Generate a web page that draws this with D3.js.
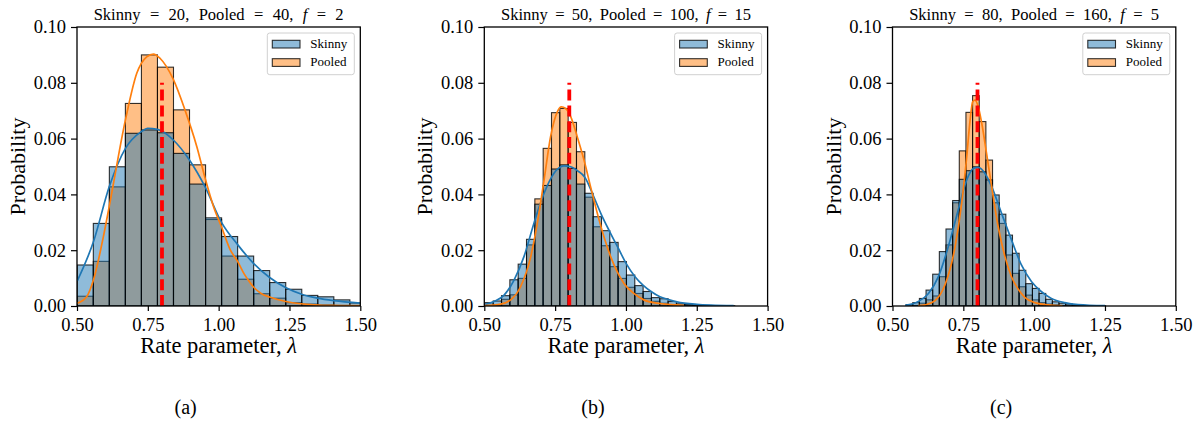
<!DOCTYPE html>
<html>
<head>
<meta charset="utf-8">
<script src="https://cdn.jsdelivr.net/npm/d3@7"></script>
<style>
  html, body { margin: 0; padding: 0; background: #fff; }
  svg { display: block; }
</style>
</head>
<body>
<svg id="chart" width="1200" height="421"></svg>
<script>
// ---------------- DATA ----------------
const seriesNames = ["Skinny", "Pooled"];
const panelSkinny = [20, 50, 80];
const panelPooled = [40, 100, 160];
const panelF = [2, 15, 5];
const panelCaptions = ["(a)", "(b)", "(c)"];
const xTickValues = [0.5, 0.75, 1.0, 1.25, 1.5];
const yTickValues = [0, 0.02, 0.04, 0.06, 0.08, 0.10];
const trueRate = 0.8;
const trueRateLineTop = 0.08;

// histogram bins: start and width (equal-width bins), per panel
const binStart = [0.501, 0.502, 0.548];
const binWidth = [0.0566, 0.0294, 0.02347];

// Panel (a)
const p1Skinny = [0.0147,0.0296,0.0499,0.0619,0.0631,0.0621,0.0547,0.0437,0.0316,0.0249,0.0179,0.0127,0.0084,0.0060,0.0038,0.0033,0.0022,0.0011];
const p1Pooled = [0.0035,0.0160,0.0427,0.0726,0.0900,0.0856,0.0703,0.0506,0.0310,0.0179,0.0096,0.0044,0.0028,0.0012,0.0007,0.0004,0.0002,0.0001];
const p1SkinnyKde = [[0.501,0.0090],[0.558,0.0230],[0.614,0.0428],[0.671,0.0565],[0.727,0.0625],[0.749,0.0637],[0.784,0.0633],[0.840,0.0595],[0.897,0.0523],[0.953,0.0425],[1.010,0.0300],[1.067,0.0220],[1.123,0.0153],[1.180,0.0102],[1.236,0.0066],[1.293,0.0042],[1.349,0.0028],[1.406,0.0019],[1.500,0.0010]];
const p1PooledKde = [[0.501,0.0010],[0.534,0.0033],[0.558,0.0093],[0.593,0.0248],[0.614,0.0358],[0.671,0.0667],[0.711,0.0834],[0.746,0.0893],[0.770,0.0903],[0.793,0.0888],[0.840,0.0812],[0.881,0.0703],[0.923,0.0571],[0.953,0.0455],[0.982,0.0356],[1.010,0.0284],[1.041,0.0201],[1.067,0.0160],[1.090,0.0115],[1.110,0.0085],[1.123,0.0068],[1.150,0.0045],[1.180,0.0032],[1.237,0.0016],[1.290,0.0008],[1.400,0.0002],[1.500,0.0001]];

// Panel (b)
const p2Skinny = [0.0012,0.0018,0.0037,0.0094,0.0150,0.0239,0.0365,0.0432,0.0491,0.0506,0.0493,0.0437,0.0404,0.0320,0.0270,0.0228,0.0159,0.0111,0.0073,0.0052,0.0030,0.0026,0.0016,0.0008,0.0005,0.0003,0.0002,0.0001,0.0001,0.0001];
const p2Pooled = [0.0002,0.0005,0.0024,0.0040,0.0099,0.0219,0.0384,0.0565,0.0693,0.0708,0.0658,0.0553,0.0390,0.0284,0.0216,0.0141,0.0099,0.0067,0.0045,0.0027,0.0017,0.0010,0.0005,0.0003,0.0002,0.0001,0.0001,0,0,0];
const p2SkinnyKde = [[0.499,0.0004],[0.534,0.0016],[0.570,0.0039],[0.605,0.0093],[0.640,0.0177],[0.675,0.0296],[0.711,0.0404],[0.746,0.0476],[0.781,0.0502],[0.805,0.0499],[0.830,0.0484],[0.856,0.0460],[0.885,0.0395],[0.914,0.0326],[0.943,0.0266],[0.973,0.0207],[1.002,0.0150],[1.032,0.0105],[1.061,0.0074],[1.090,0.0051],[1.120,0.0033],[1.150,0.0023],[1.180,0.0015],[1.250,0.0006],[1.300,0.0003],[1.380,0.0001]];
const p2PooledKde = [[0.499,0.0001],[0.558,0.0007],[0.593,0.0022],[0.628,0.0069],[0.664,0.0177],[0.687,0.0296],[0.711,0.0452],[0.734,0.0607],[0.758,0.0697],[0.772,0.0714],[0.787,0.0708],[0.805,0.0679],[0.828,0.0607],[0.852,0.0523],[0.875,0.0428],[0.899,0.0332],[0.922,0.0249],[0.946,0.0177],[0.969,0.0123],[0.993,0.0081],[1.028,0.0045],[1.063,0.0022],[1.110,0.0010],[1.205,0.0002]];

// Panel (c)
const p3Skinny = [0.0005,0.0012,0.0027,0.0057,0.0114,0.0195,0.0276,0.0378,0.0454,0.0485,0.0499,0.0481,0.0452,0.0398,0.0329,0.0254,0.0189,0.0128,0.0080,0.0063,0.0045,0.0024,0.0015,0.0010,0.0007,0.0004,0.0002,0.0001,0.0001,0.0001];
const p3Pooled = [0,0.0002,0.0010,0.0022,0.0036,0.0105,0.0219,0.0370,0.0556,0.0694,0.0754,0.0661,0.0523,0.0370,0.0296,0.0183,0.0117,0.0069,0.0039,0.0022,0.0012,0.0007,0.0004,0.0002,0.0001,0.0001,0,0,0,0];
const p3SkinnyKde = [[0.545,0.0002],[0.591,0.0016],[0.627,0.0045],[0.662,0.0105],[0.697,0.0213],[0.732,0.0344],[0.762,0.0452],[0.785,0.0493],[0.803,0.0497],[0.826,0.0476],[0.850,0.0428],[0.885,0.0332],[0.920,0.0237],[0.955,0.0147],[0.991,0.0087],[1.026,0.0051],[1.061,0.0027],[1.108,0.0012],[1.155,0.0005],[1.250,0.0001]];
const p3PooledKde = [[0.590,0.0001],[0.615,0.0004],[0.650,0.0019],[0.685,0.0075],[0.721,0.0213],[0.744,0.0368],[0.762,0.0535],[0.774,0.0667],[0.783,0.0732],[0.791,0.0738],[0.801,0.0720],[0.815,0.0655],[0.832,0.0547],[0.850,0.0428],[0.873,0.0284],[0.897,0.0177],[0.920,0.0105],[0.944,0.0060],[0.967,0.0031],[1.002,0.0012],[1.049,0.0004],[1.100,0.0001]];

// ---------------- BUILD ----------------
const panels = [
  {skinny: p1Skinny, pooled: p1Pooled, skinnyKde: p1SkinnyKde, pooledKde: p1PooledKde},
  {skinny: p2Skinny, pooled: p2Pooled, skinnyKde: p2SkinnyKde, pooledKde: p2PooledKde},
  {skinny: p3Skinny, pooled: p3Pooled, skinnyKde: p3SkinnyKde, pooledKde: p3PooledKde}
];

const FONT = '"Liberation Serif", "Times New Roman", serif';
const colors = {Skinny: "#1f77b4", Pooled: "#ff7f0e"};
const plotLeft = [77, 484.3, 892.5];
const plotW = 283.3;
const plotTop = 27, plotBottom = 306;
const titleWidth = 250;      // target rendered width of panel title
const titleWordWidth = 46;   // target rendered width of the word "Pooled" in title

const svg = d3.select("#chart");

panels.forEach((p, i) => {
  const x = d3.scaleLinear().domain([0.5, 1.5]).range([plotLeft[i], plotLeft[i] + plotW]);
  const y = d3.scaleLinear().domain([0, 0.1]).range([plotBottom, plotTop]);
  const g = svg.append("g");

  const clipId = "clip" + i;
  svg.append("clipPath").attr("id", clipId)
    .append("rect").attr("x", plotLeft[i]).attr("y", plotTop)
    .attr("width", plotW).attr("height", plotBottom - plotTop);

  const plot = g.append("g").attr("clip-path", `url(#${clipId})`);

  const drawBars = (vals, name) => {
    const bins = vals.map((v, k) => ({x0: binStart[i] + k * binWidth[i], x1: binStart[i] + (k + 1) * binWidth[i], v}))
      .filter(d => d.v > 0);
    plot.append("g").selectAll("rect").data(bins).join("rect")
      .attr("x", d => x(d.x0))
      .attr("y", d => y(d.v))
      .attr("width", d => x(d.x1) - x(d.x0))
      .attr("height", d => y(0) - y(d.v))
      .attr("fill", colors[name]).attr("fill-opacity", 0.5)
      .attr("stroke", "#000").attr("stroke-opacity", 0.8).attr("stroke-width", 1.1);
  };
  drawBars(p.pooled, "Pooled");
  drawBars(p.skinny, "Skinny");

  const line = d3.line().x(d => x(d[0])).y(d => y(d[1])).curve(d3.curveMonotoneX);
  plot.append("path").datum(p.skinnyKde).attr("d", line)
    .attr("fill", "none").attr("stroke", colors.Skinny).attr("stroke-width", 1.7);
  plot.append("path").datum(p.pooledKde).attr("d", line)
    .attr("fill", "none").attr("stroke", colors.Pooled).attr("stroke-width", 1.7);

  // true rate dashed line
  g.append("line")
    .attr("x1", x(trueRate)).attr("x2", x(trueRate))
    .attr("y1", y(0)).attr("y2", y(trueRateLineTop))
    .attr("stroke", "#ff0000").attr("stroke-width", 3.8)
    .attr("stroke-dasharray", "11,4.8");

  // axes
  const xAxis = d3.axisBottom(x).tickValues(xTickValues).tickFormat(d3.format(".2f")).tickSize(5).tickPadding(4);
  const gx = g.append("g").attr("transform", `translate(0,${plotBottom})`).call(xAxis);
  const yAxis = d3.axisLeft(y).tickValues(yTickValues).tickFormat(d3.format(".2f")).tickSize(6).tickPadding(5);
  const gy = g.append("g").attr("transform", `translate(${plotLeft[i]},0)`).call(yAxis);
  [gx, gy].forEach(a => {
    a.attr("font-family", null).attr("font-size", null);
    a.select(".domain").remove();
    a.selectAll(".tick line").attr("stroke", "#000").attr("stroke-width", 1.2);
    a.selectAll(".tick text").style("font-size", "18.5px")
      .style("font-family", FONT).attr("fill", "#000");
  });
  gx.selectAll(".tick text").attr("dy", "0.85em");

  // frame
  g.append("rect").attr("x", plotLeft[i]).attr("y", plotTop)
    .attr("width", plotW).attr("height", plotBottom - plotTop)
    .attr("fill", "none").attr("stroke", "#000").attr("stroke-width", 1.3);

  // title (math-style spacing around "=")
  const cx = plotLeft[i] + plotW / 2;
  const t = g.append("text").attr("x", cx).attr("y", 20).attr("text-anchor", "middle")
    .style("font-family", FONT).style("font-size", "16px");
  const words = [
    ["Skinny", false], ["=", false], [panelSkinny[i] + ",", false],
    ["Pooled", false], ["=", false], [panelPooled[i] + ",", false],
    ["f", true], ["=", false], [String(panelF[i]), false]
  ];
  const spans = words.map(([s, it]) => {
    const ts = t.append("tspan").text(s);
    if (it) ts.style("font-style", "italic");
    return ts;
  });
  const wPooled = spans[3].node().getComputedTextLength();
  const fs = wPooled > 0 ? 16 * titleWordWidth / wPooled : 16;
  t.style("font-size", fs + "px");
  const wordsW = d3.sum(spans, s => s.node().getComputedTextLength());
  const gap = Math.max(3, (titleWidth - wordsW) / (spans.length - 1));
  spans.forEach((s, k) => { if (k > 0) s.attr("dx", gap); });

  // axis labels
  const xl = g.append("text").attr("x", cx).attr("y", 353).attr("text-anchor", "middle")
    .style("font-family", FONT).style("font-size", "22.5px");
  xl.append("tspan").text("Rate parameter, ");
  xl.append("tspan").style("font-style", "italic").text("λ");
  g.append("text").attr("transform", `translate(${plotLeft[i] - 52},${(plotTop + plotBottom) / 2}) rotate(-90)`)
    .attr("text-anchor", "middle").style("font-family", FONT).style("font-size", "22px").text("Probability");

  // caption
  g.append("text").attr("x", cx - 33).attr("y", 414).attr("text-anchor", "middle")
    .style("font-family", FONT).style("font-size", "20px").text(panelCaptions[i]);

  // legend
  const lgX = plotLeft[i] + plotW - 93, lgY = plotTop + 6;
  const lg = g.append("g");
  lg.append("rect").attr("x", lgX).attr("y", lgY).attr("width", 87).attr("height", 41.7)
    .attr("rx", 2.5).attr("fill", "#fff").attr("fill-opacity", 0.8)
    .attr("stroke", "#d0d0d0").attr("stroke-width", 1);
  seriesNames.forEach((name, k) => {
    const ry = lgY + 7.3 + k * 18.4;
    lg.append("rect").attr("x", lgX + 5).attr("y", ry).attr("width", 27.7).attr("height", 7.7)
      .attr("fill", colors[name]).attr("fill-opacity", 0.5)
      .attr("stroke", "#000").attr("stroke-opacity", 0.8).attr("stroke-width", 1.1);
    lg.append("text").attr("x", lgX + 43).attr("y", ry + 7.5)
      .style("font-family", FONT).style("font-size", "13px").text(name);
  });
});
</script>
</body>
</html>
